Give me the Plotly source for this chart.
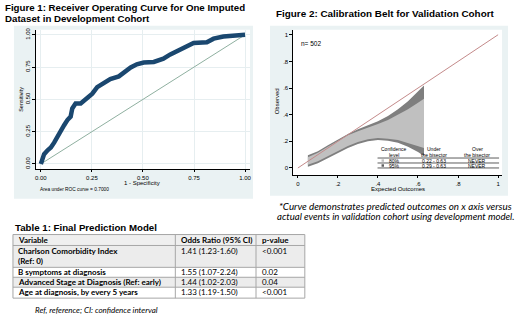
import plotly.graph_objects as go

W, H = 520, 320

# ---------------- data ----------------
roc_fpr = [0, 0.005, 0.016, 0.033, 0.049, 0.065, 0.081, 0.098, 0.114, 0.13, 0.146, 0.154, 0.17,
           0.195, 0.22, 0.252, 0.276, 0.309, 0.34, 0.382, 0.415, 0.44, 0.47, 0.504, 0.553, 0.60,
           0.634, 0.683, 0.715, 0.748, 0.813, 0.846, 0.894, 0.943, 1.0]
roc_tpr = [0, 0.02, 0.076, 0.106, 0.127, 0.165, 0.215, 0.253, 0.30, 0.34, 0.367, 0.43, 0.468,
           0.468, 0.506, 0.544, 0.595, 0.625, 0.658, 0.678, 0.72, 0.747, 0.772, 0.785, 0.79, 0.815,
           0.848, 0.886, 0.919, 0.937, 0.942, 0.97, 0.987, 0.995, 1.0]
auc_text = "Area under ROC curve = 0.7000"

belt_x = [0.05, 0.1, 0.15, 0.2, 0.25, 0.3, 0.35, 0.4, 0.45, 0.5, 0.55, 0.6, 0.63]
upper95 = [0.095, 0.125, 0.17, 0.215, 0.255, 0.29, 0.32, 0.35, 0.39, 0.44, 0.50, 0.575, 0.62]
upper80 = [0.08, 0.115, 0.16, 0.205, 0.245, 0.275, 0.30, 0.33, 0.36, 0.40, 0.44, 0.49, 0.52]
lower80 = [0.025, 0.05, 0.085, 0.125, 0.165, 0.195, 0.215, 0.225, 0.22, 0.21, 0.19, 0.165, 0.15]
lower95 = [0.01, 0.035, 0.07, 0.11, 0.15, 0.18, 0.20, 0.21, 0.205, 0.19, 0.16, 0.12, 0.09]
n_obs = 502
belt_levels = ["80%", "95%"]
belt_under = ["0.22 - 0.63", "0.29 - 0.63"]
belt_over = ["NEVER", "NEVER"]

tbl_header = ["Variable", "Odds Ratio (95% CI)", "p-value"]
tbl_variable = [["Charlson Comorbidity Index", "(Ref: 0)"], ["B symptoms at diagnosis"],
                ["Advanced Stage at Diagnosis (Ref: early)"], ["Age at diagnosis, by every 5 years"]]
tbl_or = ["1.41 (1.23-1.60)", "1.55 (1.07-2.24)", "1.44 (1.02-2.03)", "1.33 (1.19-1.50)"]
tbl_p = ["<0.001", "0.02", "0.04", "<0.001"]


def px(x):
    return x / W


def py(y):
    return 1 - y / H


ARIAL = "Arial, Liberation Sans, sans-serif"
CAL = "Lato, Open Sans, sans-serif"
PANEL = "#eaf2f3"

fig = go.Figure()

# ROC
fig.add_trace(go.Scatter(x=[0, 1], y=[0, 1], mode="lines", line=dict(color="#8fb0a0", width=1),
                         xaxis="x", yaxis="y", showlegend=False, hoverinfo="skip"))
fig.add_trace(go.Scatter(x=roc_fpr, y=roc_tpr, mode="lines", line=dict(color="#1a476f", width=4.5),
                         xaxis="x", yaxis="y", showlegend=False))

# Calibration belt
fig.add_trace(go.Scatter(x=belt_x + belt_x[::-1], y=upper95 + lower95[::-1], mode="lines",
                         fill="toself", fillcolor="#7f7f7f", line=dict(width=0, color="#7f7f7f"),
                         xaxis="x2", yaxis="y2", showlegend=False))
fig.add_trace(go.Scatter(x=belt_x + belt_x[::-1], y=upper80 + lower80[::-1], mode="lines",
                         fill="toself", fillcolor="#c0c0c0", line=dict(width=0, color="#c0c0c0"),
                         xaxis="x2", yaxis="y2", showlegend=False))
fig.add_trace(go.Scatter(x=[0, 1], y=[0, 1], mode="lines", line=dict(color="#c48a8a", width=1),
                         xaxis="x2", yaxis="y2", showlegend=False, hoverinfo="skip"))

axis_common = dict(showline=True, linecolor="black", linewidth=1, ticks="outside", ticklen=2.5,
                   tickcolor="black", zeroline=False, tickfont=dict(family=ARIAL, size=6, color="black"))

fig.update_layout(
    width=W, height=H, margin=dict(l=0, r=0, t=0, b=0),
    paper_bgcolor="white", plot_bgcolor="rgba(0,0,0,0)",
    xaxis=dict(domain=[px(35), px(250)], range=[-0.0244, 1.0244], anchor="y",
               tickvals=[0, 0.25, 0.5, 0.75, 1], ticktext=["0.00", "0.25", "0.50", "0.75", "1.00"],
               showgrid=True, gridcolor="#e6eef0", **axis_common),
    yaxis=dict(domain=[py(168), py(28)], range=[-0.0385, 1.0385], anchor="x",
               tickvals=[0, 0.25, 0.5, 0.75, 1], ticktext=["0.00", "0.25", "0.50", "0.75", "1.00"],
               tickangle=-90, showgrid=True, gridcolor="#e6eef0", **axis_common),
    xaxis2=dict(domain=[px(293), px(503)], range=[-0.0249, 1.0199], anchor="y2",
                tickvals=[0, 0.2, 0.4, 0.6, 0.8, 1], ticktext=["0", ".2", ".4", ".6", ".8", "1"],
                showgrid=False, **axis_common),
    yaxis2=dict(domain=[py(174), py(28)], range=[-0.052, 1.037], anchor="x2",
                tickvals=[0, 0.2, 0.4, 0.6, 0.8, 1], ticktext=["0", ".2", ".4", ".6", ".8", "1"],
                showgrid=False, **axis_common),
)

shapes = [
    dict(type="rect", xref="paper", yref="paper", x0=px(13), x1=px(253), y0=py(198), y1=py(24),
         fillcolor=PANEL, line=dict(width=0), layer="below"),
    dict(type="rect", xref="paper", yref="paper", x0=px(35), x1=px(250), y0=py(168), y1=py(28),
         fillcolor="white", line=dict(width=0), layer="below"),
    dict(type="rect", xref="paper", yref="paper", x0=px(270), x1=px(509), y0=py(195), y1=py(24),
         fillcolor=PANEL, line=dict(width=0), layer="below"),
    dict(type="rect", xref="paper", yref="paper", x0=px(293), x1=px(503), y0=py(174), y1=py(28),
         fillcolor="white", line=dict(width=0), layer="below"),
]
# belt legend lines
for yy in [157, 162, 167]:
    shapes.append(dict(type="line", xref="paper", yref="paper", x0=px(378), x1=px(500),
                       y0=py(yy), y1=py(yy), line=dict(color="#333333", width=0.8)))
shapes.append(dict(type="rect", xref="paper", yref="paper", x0=px(382), x1=px(384.5),
                   y0=py(160.8), y1=py(158.3), fillcolor="#c0c0c0", line=dict(width=0)))
shapes.append(dict(type="rect", xref="paper", yref="paper", x0=px(382), x1=px(384.5),
                   y0=py(165.8), y1=py(163.3), fillcolor="#606060", line=dict(width=0)))

ann = []


def text(x, y, s, size, family=ARIAL, xanchor="left", color="black", angle=0):
    ann.append(dict(x=px(x), y=py(y), xref="paper", yref="paper", text=s, showarrow=False,
                    xanchor=xanchor, yanchor="middle", textangle=angle,
                    font=dict(family=family, size=size, color=color)))


# ---- table drawn with shapes/annotations ----
col_edges = [12, 175, 256, 305]
row_edges = [234, 245, 267, 277, 287, 298]
row_fills = ["#efefef", "#ececec", "white", "#ececec", "white"]
for i, f in enumerate(row_fills):
    shapes.append(dict(type="rect", xref="paper", yref="paper", x0=px(col_edges[0]), x1=px(col_edges[-1]),
                       y0=py(row_edges[i + 1]), y1=py(row_edges[i]), fillcolor=f, line=dict(width=0),
                       layer="below"))
for yy in row_edges:
    shapes.append(dict(type="line", xref="paper", yref="paper", x0=px(col_edges[0]), x1=px(col_edges[-1]),
                       y0=py(yy), y1=py(yy), line=dict(color="#a6a6a6", width=1)))
for xx in col_edges:
    shapes.append(dict(type="line", xref="paper", yref="paper", x0=px(xx), x1=px(xx),
                       y0=py(row_edges[-1]), y1=py(row_edges[0]), line=dict(color="#a6a6a6", width=1)))

TF = 8
for j, h in enumerate(tbl_header):
    text(col_edges[j] + 3.5, 239.8, "<b>%s</b>" % h, TF, family=CAL)
for i in range(len(tbl_variable)):
    top = row_edges[i + 1]
    for k, line in enumerate(tbl_variable[i]):
        text(col_edges[0] + 3.5, top + 5.2 + 10.5 * k, "<b>%s</b>" % line, TF, family=CAL)
    text(col_edges[1] + 3.5, top + 5.2, tbl_or[i], TF, family=CAL)
    text(col_edges[2] + 3.5, top + 5.2, tbl_p[i], TF, family=CAL)

fig.update_layout(shapes=shapes)

text(2, 6, "<b>Figure 1: Receiver Operating Curve for One Imputed</b>", 9.7)
text(2, 17, "<b>Dataset in Development Cohort</b>", 9.7)
text(386, 12, "<b>Figure 2: Calibration Belt for Validation Cohort</b>", 9.9, xanchor="center")
text(142, 182.5, "1 - Specificity", 6, xanchor="center")
text(20.5, 98, "Sensitivity", 5.5, xanchor="center", angle=-90)
text(37, 189, auc_text, 4.8)
text(399, 188.5, "Expected Outcomes", 6, xanchor="center")
text(277, 100, "Observed", 6, xanchor="center", angle=-90)
text(299, 42, "n= %d" % n_obs, 6.5)
# belt legend table
LF = 5
text(395, 147.5, "Confidence", LF, xanchor="center")
text(395, 153.5, "level", LF, xanchor="center")
text(435, 147.5, "Under", LF, xanchor="center")
text(435, 153.5, "the bisector", LF, xanchor="center")
text(478, 147.5, "Over", LF, xanchor="center")
text(478, 153.5, "the bisector", LF, xanchor="center")
for i, yy in enumerate([159.6, 164.6]):
    text(395, yy, belt_levels[i], LF, xanchor="center")
    text(435, yy, belt_under[i], LF, xanchor="center")
    text(478, yy, belt_over[i], LF, xanchor="center")
# caption
text(277, 205, "<i>*Curve demonstrates predicted outcomes on x axis versus</i>", 9.8, family=CAL)
text(275, 216, "<i>actual events in validation cohort using development model.</i>", 9.6, family=CAL)
text(12, 227, "<b>Table 1: Final Prediction Model</b>", 9.7)
text(32, 310, "<i>Ref, reference; CI: confidence interval</i>", 8, family=CAL)

fig.update_layout(annotations=ann)
fig.write_html("out.html", config={"displayModeBar": False},
               post_script="document.body.style.margin='0';")
